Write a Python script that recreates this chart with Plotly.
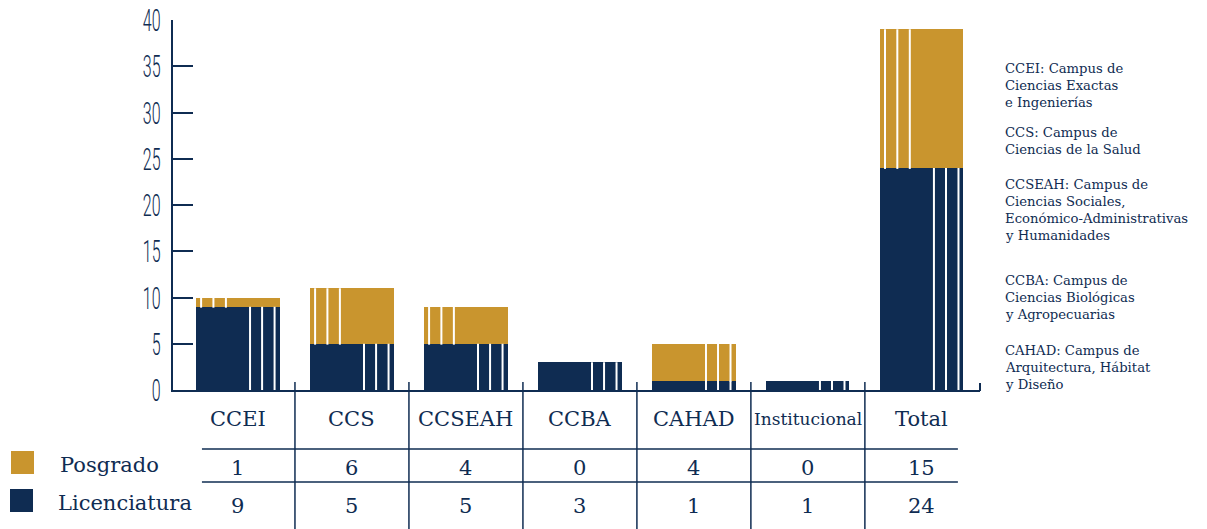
import plotly.graph_objects as go

categories = ["CCEI", "CCS", "CCSEAH", "CCBA", "CAHAD", "Institucional", "Total"]
posgrado = [1, 6, 4, 0, 4, 0, 15]
licenciatura = [9, 5, 5, 3, 1, 1, 24]
posgrado_stripe_side = ["l", "l", "l", "l", "r", "l", "l"]
y_ticks = [0, 5, 10, 15, 20, 25, 30, 35, 40]
notes = [
    ["CCEI: Campus de", "Ciencias Exactas", "e Ingenierías"],
    ["CCS: Campus de", "Ciencias de la Salud"],
    ["CCSEAH: Campus de", "Ciencias Sociales,", "Económico-Administrativas", "y Humanidades"],
    ["CCBA: Campus de", "Ciencias Biológicas", "y Agropecuarias"],
    ["CAHAD: Campus de", "Arquitectura, Hábitat", "y Diseño"],
]

NAVY = "#0f2c52"
GOLD = "#c9952e"
SERIF = "DejaVu Serif, Liberation Serif, serif"

W, H = 1207, 529
L, R, T, B = 173, 980, 20, 390
BAR_W = 0.73
XR = [-0.57, 6.51]


def py(p):
    return (B - p) / (B - T)


def px(p):
    return (p - L) / (R - L)


fig = go.Figure()
fig.add_trace(go.Bar(x=categories, y=licenciatura, name="Licenciatura",
                     marker=dict(color=NAVY, line=dict(width=0)), width=BAR_W,
                     showlegend=False, hoverinfo="x+y"))
fig.add_trace(go.Bar(x=categories, y=posgrado, name="Posgrado",
                     marker=dict(color=GOLD, line=dict(width=0)), width=BAR_W,
                     showlegend=False, hoverinfo="x+y"))

shapes = []
ann = []

# white stripes on bars
left_f = [0.057, 0.205, 0.355]
right_f = [0.645, 0.79, 0.94]
for i, (p, l) in enumerate(zip(posgrado, licenciatura)):
    x0 = i - BAR_W / 2
    if l > 0:
        for f in right_f:
            shapes.append(dict(type="line", xref="x", yref="y", x0=x0 + f * BAR_W, x1=x0 + f * BAR_W,
                               y0=0, y1=l, line=dict(color="white", width=2)))
    if p > 0:
        fs = left_f if posgrado_stripe_side[i] == "l" else right_f
        for f in fs:
            shapes.append(dict(type="line", xref="x", yref="y", x0=x0 + f * BAR_W, x1=x0 + f * BAR_W,
                               y0=l - 0.1, y1=l + p, line=dict(color="white", width=2)))

# table vertical lines (category boundaries)
for i in range(len(categories) - 1):
    shapes.append(dict(type="line", xref="x", yref="paper", x0=i + 0.5, x1=i + 0.5,
                       y0=py(382), y1=py(H + 5), line=dict(color=NAVY, width=1.5)))
# right end tick
shapes.append(dict(type="line", xref="paper", yref="paper", x0=1, x1=1,
                   y0=py(383), y1=py(391), line=dict(color=NAVY, width=2)))
# table horizontal lines
for yy in (449, 482):
    shapes.append(dict(type="line", xref="x", yref="paper", x0=-0.316, x1=len(categories) - 1 + 0.316,
                       y0=py(yy), y1=py(yy), line=dict(color=NAVY, width=1.5)))

# table text
for i, c in enumerate(categories):
    ann.append(dict(x=i, y=py(419), xref="x", yref="paper", text=c, showarrow=False,
                    xanchor="center", yanchor="middle",
                    font=dict(family=SERIF, size=17 if c == "Institucional" else 21, color=NAVY)))
    ann.append(dict(x=i, y=py(468), xref="x", yref="paper", text=str(posgrado[i]), showarrow=False,
                    xanchor="center", yanchor="middle", font=dict(family=SERIF, size=21, color=NAVY)))
    ann.append(dict(x=i, y=py(505.5), xref="x", yref="paper", text=str(licenciatura[i]), showarrow=False,
                    xanchor="center", yanchor="middle", font=dict(family=SERIF, size=21, color=NAVY)))

# legend
shapes.append(dict(type="rect", xref="paper", yref="paper", x0=px(11), x1=px(34), y0=py(451), y1=py(474),
                   fillcolor=GOLD, line=dict(width=0)))
shapes.append(dict(type="rect", xref="paper", yref="paper", x0=px(10), x1=px(33), y0=py(489), y1=py(512),
                   fillcolor=NAVY, line=dict(width=0)))
ann.append(dict(x=px(58), y=py(465), xref="paper", yref="paper", text="Posgrado", showarrow=False,
                xanchor="left", yanchor="middle", font=dict(family=SERIF, size=21, color=NAVY)))
ann.append(dict(x=px(56), y=py(503), xref="paper", yref="paper", text="Licenciatura", showarrow=False,
                xanchor="left", yanchor="middle", font=dict(family=SERIF, size=21, color=NAVY)))

# right-side notes
starts = [68, 132, 184, 280, 350]
for block, s in zip(notes, starts):
    for k, line in enumerate(block):
        ann.append(dict(x=px(1003), y=py(s + k * 17.3), xref="paper", yref="paper", text=line,
                        showarrow=False, xanchor="left", yanchor="middle",
                        font=dict(family=SERIF, size=13.2, color=NAVY)))

fig.update_layout(
    template="none",
    width=W, height=H,
    margin=dict(l=L, r=W - R, t=T, b=H - B, pad=0, autoexpand=False),
    paper_bgcolor="white", plot_bgcolor="white",
    barmode="stack",
    shapes=shapes, annotations=ann,
    showlegend=False,
    xaxis=dict(range=XR, showticklabels=False, showgrid=False, zeroline=False, automargin=False,
               showline=True, linecolor=NAVY, linewidth=2, ticks="", fixedrange=True),
    yaxis=dict(range=[0, 40], tickvals=y_ticks, showgrid=False, zeroline=False, automargin=False,
               showline=True, linecolor=NAVY, linewidth=2,
               ticks="inside", ticklen=20, tickwidth=1.5, tickcolor=NAVY,
               tickfont=dict(family="Roboto, Liberation Sans, sans-serif", size=32, color=NAVY, weight=300),
               ticklabelstandoff=4),
)

post = """
document.body.style.margin = '0';
document.documentElement.style.overflow = 'hidden';
var gd = document.getElementById('{plot_id}');
gd.querySelectorAll('.ytick text').forEach(function (t) {
  var b = t.getBBox();
  var cx = b.x + b.width, cy = b.y + b.height / 2;
  var tr = t.getAttribute('transform') || '';
  t.setAttribute('transform', tr + ' translate(' + cx + ',' + cy + ') scale(0.5,1) translate(' + (-cx) + ',' + (-cy) + ')');
});
"""

fig.write_html("out.html", post_script=post, config={"displayModeBar": False})
